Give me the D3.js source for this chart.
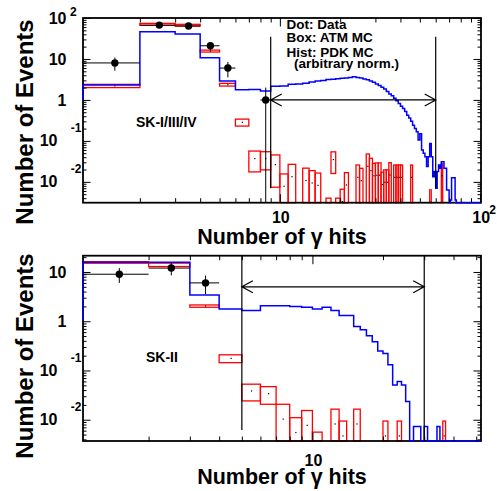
<!DOCTYPE html>
<html>
<head>
<meta charset="utf-8">
<script src="https://cdn.jsdelivr.net/npm/d3@7"></script>
<style>
  html, body { margin: 0; padding: 0; background: #fff; }
  svg { display: block; }
  text { font-family: 'Liberation Sans', Arial, Helvetica, sans-serif; font-weight: bold; fill: #000; }
</style>
</head>
<body>
<svg id="chart" width="497" height="491"></svg>
<script>
// bins are [n, n+1) in number of gamma hits

// ---- SK-I/III/IV ----
const topDataN   = [1, 2, 3, 4, 5, 8];
const topDataVal = [8, 67, 64, 21, 6, 1];

const topAtmN   = [1, 2, 3, 4, 5, 6, 7, 8, 9, 10, 11, 13, 14, 15, 17, 18, 19, 20, 21, 24, 25, 27, 28, 29, 30, 31, 32, 33, 34, 35, 37, 38, 39, 40, 45, 56, 64];
const topAtmVal = [2.2, 70, 66.8, 15.6, 2.36, 0.285, 0.037, 0.037, 0.0264, 0.0078, 0.0134, 0.0108, 0.0094, 0.0082, 0.002, 0.035, 0.002, 0.0033, 0.0084, 0.0129, 0.0107, 0.0239, 0.0188, 0.0141, 0.0145, 0.0145, 0.0086, 0.0098, 0.0098, 0.0147, 0.0129, 0.0129, 0.0129, 0.0129, 0.0129, 0.0032, 0.0141];
const topAtmErr = [0.2, 4, 3.3, 0.85, 0.18, 0.055, 0.0195, 0.0174, 0.019, 0.0078, 0.0134, 0.0108, 0.0094, 0.0082, 0.002, 0.019, 0.002, 0.0033, 0.0084, 0.0129, 0.0107, 0.0239, 0.0188, 0.0141, 0.0145, 0.0145, 0.0086, 0.0098, 0.0098, 0.0147, 0.0129, 0.0129, 0.0129, 0.0129, 0.0129, 0.0032, 0.0141];

// PDK MC, one value per bin starting at n = 1
const topPdk = [
  2.3, 46, 40.5, 10.7, 2.9, 1.78, 1.8, 1.65, 2.15, 2.2,
  2.4, 2.45, 2.55, 2.75, 2.9, 3.0, 3.15, 3.2, 3.3, 3.4,
  3.45, 3.55, 3.7, 3.55, 3.45, 3.25, 3.1, 2.9, 2.7, 2.45,
  2.25, 2.05, 1.85, 1.6, 1.4, 1.27, 1.1, 0.96, 0.82, 0.7,
  0.62, 0.52, 0.42, 0.36, 0.3, 0.24, 0.2, 0.167, 0.105, 0.15,
  0.06, 0.05, 0.041, 0.0236, 0.041, 0.087, 0.041, 0.0134, 0.018, 0.007,
  0.018, 0.0258, 0.0215, 0.031, 0.031, 0.0215, 0.0215, 0.0063, 0.0063, 0,
  0.0036, 0.0126, 0.0126, 0.0126, 0.0036, 0
];

const topCutX  = [9, 60];
const topCutLo = [0.007, 0.007];
const topCutHi = [35, 35];
const topArrow = { from: 9, to: 60, y: 1 };

// ---- SK-II ----
const botDataN   = [1, 2, 3];
const botDataVal = [9, 12, 6];

const botAtmN   = [1, 2, 3, 4, 5, 6, 7, 8, 9, 10, 12, 13, 15, 20, 23, 36];
const botAtmVal = [15.6, 14, 2.03, 0.176, 0.0384, 0.0338, 0.0103, 0.0055, 0.0077, 0.0028, 0.0082, 0.0047, 0.0082, 0.0047, 0.0047, 0.0047];
const botAtmErr = [0.55, 1.1, 0.11, 0.032, 0.0143, 0.0132, 0.0103, 0.0055, 0.0077, 0.0028, 0.0082, 0.0047, 0.0082, 0.0047, 0.0047, 0.0047];

const botPdk = [
  15.8, 15.8, 3.4, 1.78, 1.65, 2.05, 2.05, 1.98, 1.93, 1.78,
  1.93, 1.66, 1.3, 1.3, 0.78, 0.67, 0.51, 0.385, 0.25, 0.22,
  0.13, 0.051, 0.06, 0.051, 0.0235, 0, 0.0073, 0.0073, 0, 0.0073,
  0, 0, 0, 0.0073, 0
];

const botCutX  = [5, 30];
const botCutLo = [0.0062, 0.0037];
const botCutHi = [21.4, 21.4];
const botArrow = { from: 5, to: 30, y: 5 };

// tick labels: [value, base, exponent]
const topYLabels = [[100, '10', '2'], [10, '10', ''], [1, '1', ''], [0.1, '10', '-1'], [0.01, '10', '-2']];
const botYLabels = [[10, '10', ''], [1, '1', ''], [0.1, '10', '-1'], [0.01, '10', '-2']];
const topXLabels = [[10, '10', ''], [100, '10', '2']];
const botXLabels = [[10, '10', '']];

const legendLines = ['Dot: Data', 'Box: ATM MC', 'Hist: PDK MC', '  (arbitrary norm.)'];

const svg = d3.select('#chart');

function drawPanel(cfg) {
  const { x, y } = cfg;
  const [x0, x1] = x.range();
  const [y1, y0] = y.range();
  const g = svg.append('g');

  // ATM MC boxes
  cfg.atmN.forEach((n, i) => {
    const v = cfg.atmVal[i], e = cfg.atmErr[i];
    const xa = x(n), xb = x(n + 1);
    const ya = y(v + e), yb = y(Math.max(v - e, 0));
    g.append('rect').attr('x', xa).attr('y', ya)
      .attr('width', xb - xa).attr('height', yb - ya)
      .attr('fill', 'none').attr('stroke', '#ff0000').attr('stroke-width', 1.3);
    if (v > y.domain()[0]) {
      g.append('rect').attr('x', x(n + 0.5) - 0.6).attr('y', y(v) - 0.6)
        .attr('width', 1.2).attr('height', 1.2).attr('fill', '#000');
    }
  });

  // frame
  g.append('rect').attr('x', x0).attr('y', y0).attr('width', x1 - x0).attr('height', y1 - y0)
    .attr('fill', 'none').attr('stroke', '#000').attr('stroke-width', 1.8);

  // PDK MC histogram
  const pts = [[x(1), y(1)]];
  cfg.pdk.forEach((v, i) => {
    const n = 1 + i;
    const yy = v > 0 ? y(v) : y1;
    pts.push([x(n), yy], [x(n + 1), yy]);
  });
  pts.push([x(cfg.pdk.length + 1), y1], [x1, y1]);
  g.append('path').attr('d', d3.line()(pts))
    .attr('fill', 'none').attr('stroke', '#0000ff').attr('stroke-width', 1.5);

  // data
  cfg.dataN.forEach((n, i) => {
    const v = cfg.dataVal[i], e = Math.sqrt(v);
    const xc = x(n + 0.5), yc = y(v);
    g.append('line').attr('x1', x(n)).attr('x2', x(n + 1)).attr('y1', yc).attr('y2', yc)
      .attr('stroke', '#000').attr('stroke-width', 1);
    g.append('line').attr('x1', xc).attr('x2', xc).attr('y1', y(v + e)).attr('y2', y(Math.max(v - e, 0)))
      .attr('stroke', '#000').attr('stroke-width', 1);
    g.append('circle').attr('cx', xc).attr('cy', yc).attr('r', 3.7).attr('fill', '#000');
  });

  // cut lines and arrow
  cfg.cutX.forEach((c, i) => {
    g.append('line').attr('x1', x(c)).attr('x2', x(c)).attr('y1', y(cfg.cutLo[i])).attr('y2', y(cfg.cutHi[i]))
      .attr('stroke', '#000').attr('stroke-width', 1.2);
  });
  const a = cfg.arrow, ay = y(a.y), xa = x(a.from), xb = x(a.to);
  g.append('path')
    .attr('d', `M${xa},${ay}H${xb}M${xa + 11},${ay - 6}L${xa},${ay}L${xa + 11},${ay + 6}M${xb - 11},${ay - 6}L${xb},${ay}L${xb - 11},${ay + 6}`)
    .attr('fill', 'none').attr('stroke', '#000').attr('stroke-width', 1.2);

  // ticks on all four sides
  const isMajor = v => Math.abs(Math.log10(v) - Math.round(Math.log10(v))) < 1e-6;
  const xt = x.ticks(), yt = y.ticks();
  const sides = [
    [d3.axisBottom, x, `translate(0,${y1})`, xt],
    [d3.axisTop, x, `translate(0,${y0})`, xt],
    [d3.axisLeft, y, `translate(${x0},0)`, yt],
    [d3.axisRight, y, `translate(${x1},0)`, yt]
  ];
  sides.forEach(([axisFn, sc, tr, vals], k) => {
    const isX = k < 2;
    [[vals.filter(isMajor), isX ? 8.5 : 7.5], [vals.filter(v => !isMajor(v)), isX ? 4.5 : 3.5]].forEach(([tv, len]) => {
      const ax = g.append('g').attr('transform', tr)
        .call(axisFn(sc).tickValues(tv).tickSizeInner(-len).tickSizeOuter(0).tickFormat(''));
      ax.select('.domain').remove();
      ax.selectAll('.tick line').attr('stroke', '#000').attr('stroke-width', 1);
    });
  });

  // y tick labels
  cfg.yLabels.forEach(([v, base, ex]) => {
    const ty = y(v);
    if (ex && ex[0] === '-') {
      g.append('text').attr('x', 57.5).attr('y', ty + 5.6).attr('text-anchor', 'end').style('font-size', '16px').text(base);
      g.append('text').attr('x', 81.5).attr('y', ty - 8.6).attr('text-anchor', 'end').style('font-size', '12px').text(ex);
    } else {
      g.append('text').attr('x', 66.5).attr('y', ty + 5.6).attr('text-anchor', 'end').style('font-size', '16px').text(base);
      if (ex) g.append('text').attr('x', 70).attr('y', ty - 2.5).style('font-size', '12px').text(ex);
    }
  });

  // x tick labels
  cfg.xLabels.forEach(([v, base, ex]) => {
    const tx = x(v);
    g.append('text').attr('x', tx + 1).attr('y', y1 + cfg.xLabelDy).attr('text-anchor', 'middle').style('font-size', '16px').text(base);
    if (ex) g.append('text').attr('x', tx + 9).attr('y', y1 + cfg.xLabelDy - 9).style('font-size', '12px').text(ex);
  });

  // titles
  g.append('text').attr('x', (x0 + x1) / 2).attr('y', cfg.xTitleY).attr('text-anchor', 'middle')
    .style('font-size', '21.5px').text('Number of γ hits');
  g.append('text').attr('transform', `translate(33,${cfg.yTitleY}) rotate(-90)`).attr('text-anchor', 'middle')
    .style('font-size', '24px').text('Number of Events');

  g.append('text').attr('x', cfg.tag[0]).attr('y', cfg.tag[1]).style('font-size', '14px').text(cfg.tag[2]);
  return g;
}

const xTop = d3.scaleLog().domain([1.04, 101]).range([83, 481]).clamp(true);
const yTop = d3.scaleLog().domain([0.0031, 100]).range([202.7, 18]).clamp(true);
const xBot = d3.scaleLog().domain([1.05, 52.4]).range([83, 481]).clamp(true);
const yBot = d3.scaleLog().domain([0.0037, 21.4]).range([441, 255.7]).clamp(true);

const gTop = drawPanel({
  x: xTop, y: yTop,
  dataN: topDataN, dataVal: topDataVal,
  atmN: topAtmN, atmVal: topAtmVal, atmErr: topAtmErr,
  pdk: topPdk,
  cutX: topCutX, cutLo: topCutLo, cutHi: topCutHi, arrow: topArrow,
  yLabels: topYLabels, xLabels: topXLabels, xLabelDy: 20.5,
  xTitleY: 244.3, yTitleY: 122,
  tag: [136, 126.5, 'SK-I/III/IV']
});

drawPanel({
  x: xBot, y: yBot,
  dataN: botDataN, dataVal: botDataVal,
  atmN: botAtmN, atmVal: botAtmVal, atmErr: botAtmErr,
  pdk: botPdk,
  cutX: botCutX, cutLo: botCutLo, cutHi: botCutHi, arrow: botArrow,
  yLabels: botYLabels, xLabels: botXLabels, xLabelDy: 24.5,
  xTitleY: 484, yTitleY: 356,
  tag: [146, 361.7, 'SK-II']
});

// legend
legendLines.forEach((t, i) => {
  gTop.append('text').attr('x', 286.5).attr('y', [29.3, 42, 56.7, 68.3][i])
    .attr('xml:space', 'preserve').style('white-space', 'pre').style('font-size', '13.5px').text(t);
});
</script>
</body>
</html>
